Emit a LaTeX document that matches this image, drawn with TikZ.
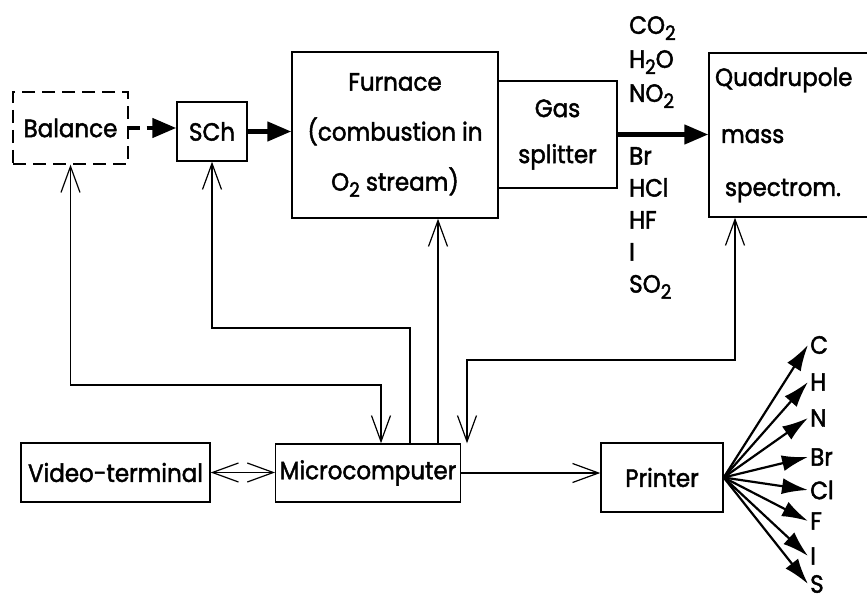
\documentclass[tikz,border=0pt]{standalone}
\usepackage{fontspec}
\setmainfont{Poppins}[FakeBold=1.8, FakeStretch=0.92]
\usetikzlibrary{arrows.meta}
\newcommand{\chemsub}[1]{\raisebox{-0.45ex}{\fontsize{20}{20}\selectfont #1}}

\begin{document}
\begin{tikzpicture}[x=1pt, y=-1pt, font=\fontsize{25}{30}\selectfont,
    unit/.style={draw, line width=1.4pt, inner sep=4pt, align=center},
    feed/.style={line width=1.2pt, -{Straight Barb[length=26pt, width=19pt]}},
    feedboth/.style={line width=1.2pt, {Straight Barb[length=26pt, width=19pt]}-{Straight Barb[length=26pt, width=19pt]}},
    flow/.style={line width=4.5pt, -{Triangle[length=24pt, width=19pt]}},
    result/.style={line width=2.2pt, -{Latex[length=26pt, width=16pt]}}]
    \useasboundingbox (0,0) rectangle (867,604);
    \clip (0,0) rectangle (867,604);

    % Sample path - top row
    \node[unit, dash pattern=on 13pt off 7pt, minimum width=115, minimum height=72] (balance) at (70.5,128) {Balance};
    \node[unit, minimum width=70, minimum height=59] (sch) at (212,131.5) {SCh};
    \node[unit, minimum width=206, minimum height=166, font=\fontsize{25}{50}\selectfont] (furnace) at (395,135) {Furnace\\(combustion in\\O\chemsub{2} stream)};
    \node[unit, minimum width=119, minimum height=107, font=\fontsize{25}{46}\selectfont] (splitter) at (557.5,134.5) {Gas\\splitter};
    \node[unit, minimum height=164, inner xsep=6pt, text width=159, align=left, font=\fontsize{25}{53}\selectfont] (quad) at (794.5,135) {Quadrupole\\[4pt]\hspace{6pt}mass\\\hspace{10pt}spectrom.};

    \draw[flow, dash pattern=on 11pt off 7pt] (balance.east) -- (balance.east -| sch.west);
    \draw[flow] (sch.east) -- (sch.east -| furnace.west);
    \draw[flow] (splitter.east) -- (splitter.east -| quad.west);

    % Gases leaving the splitter
    \node[anchor=north west, inner sep=0pt, align=left, font=\fontsize{25}{34}\selectfont] (gasup) at (629,16) {CO\chemsub{2}\\H\chemsub{2}O\\NO\chemsub{2}};
    \node[anchor=north west, inner sep=0pt, align=left, font=\fontsize{25}{32}\selectfont] (gasdown) at (629,147) {Br\\HCl\\HF\\I\\SO\chemsub{2}};

    % Control - bottom row
    \node[unit, minimum width=189, minimum height=59] (terminal) at (115.5,472.5) {Video-terminal};
    \node[unit, minimum width=180, minimum height=58] (micro) at (368,473) {Microcomputer};
    \node[unit, minimum width=122, minimum height=69] (printer) at (662,477.5) {Printer};

    \draw[feedboth] (terminal.east) -- (terminal.east -| micro.west);
    \draw[feed] (micro.east) -- (micro.east -| printer.west);

    % Lines from the microcomputer
    \draw[feedboth] (balance.south) |- (381,385) -- ([xshift=13pt]micro.north);
    \draw[feed] ([xshift=42pt]micro.north) |- (212,328) -- (sch.south);
    \draw[feed] ([xshift=70pt]micro.north) -- ([xshift=70pt]micro.north |- furnace.south);
    \draw[feedboth] ([xshift=99pt]micro.north) |- (735,360) -- ([xshift=-59.5pt]quad.south);

    % Printed elements
    \foreach \elem/\yy in {C/345, H/382, N/418, Br/457, Cl/490, F/521, I/556, S/584} {
        \node[anchor=west, inner sep=2pt] (el-\elem) at (808,\yy) {\elem};
        \draw[result] (printer.east) -- (el-\elem.west);
    }
\end{tikzpicture}
\end{document}
